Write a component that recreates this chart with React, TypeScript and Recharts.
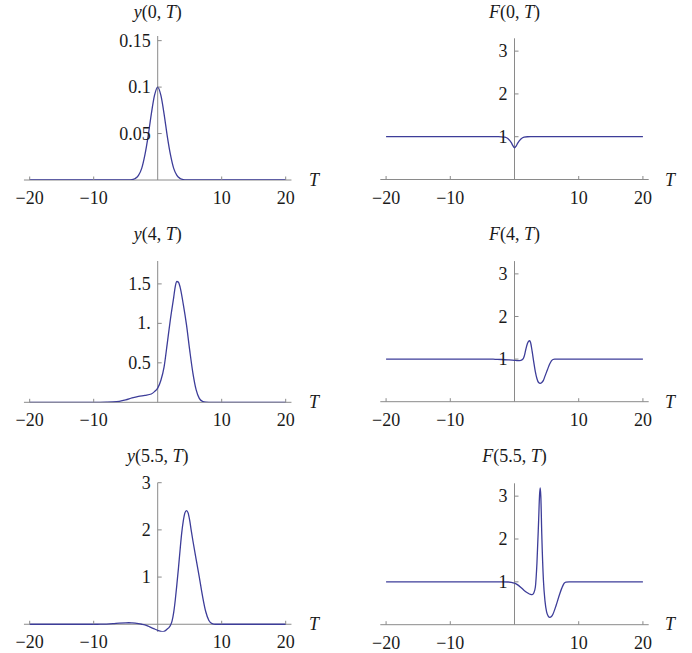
import React from 'react';
import { LineChart, Line, XAxis, YAxis, ReferenceLine } from 'recharts';

// ---------- data ----------
const xTicks = [-20, -10, 10, 20];
const xTickLabels = ['\u221220', '\u221210', '10', '20'];

const y0Ticks = [0.05, 0.1, 0.15];
const y0TickLabels = ['0.05', '0.1', '0.15'];
const y4Ticks = [0.5, 1, 1.5];
const y4TickLabels = ['0.5', '1.', '1.5'];
const y55Ticks = [1, 2, 3];
const y55TickLabels = ['1', '2', '3'];
const fTicks = [1, 2, 3];
const fTickLabels = ['1', '2', '3'];

const titleArgs = ['0', '4', '5.5'];

// y(0,T)
const y0Data: [number, number][] = [
  [-20, 0], [-6, 0], [-4.5, 0], [-4, 0.0004], [-3.5, 0.0017], [-3, 0.005], [-2.5, 0.0125],
  [-2, 0.027], [-1.5, 0.047], [-1, 0.071], [-0.5, 0.091], [0, 0.1], [0.5, 0.091], [1, 0.071],
  [1.5, 0.047], [2, 0.027], [2.5, 0.0125], [3, 0.005], [3.5, 0.0017], [4, 0.0004], [4.5, 0],
  [6, 0], [20, 0],
];
// F(0,T)
const f0Data: [number, number][] = [
  [-20, 1], [-2.5, 1], [-2, 0.998], [-1.5, 0.99], [-1, 0.955], [-0.5, 0.86], [-0.25, 0.79],
  [0, 0.74], [0.25, 0.78], [0.5, 0.85], [1, 0.945], [1.5, 0.99], [2, 0.999], [2.5, 1], [20, 1],
];
// y(4,T)
const y4Data: [number, number][] = [
  [-20, 0], [-9, 0], [-8, 0.001], [-7, 0.004], [-6, 0.012], [-5, 0.03], [-4, 0.055], [-3, 0.075],
  [-2, 0.088], [-1, 0.105], [-0.5, 0.135], [0, 0.18], [0.5, 0.28], [1, 0.45], [1.5, 0.75],
  [2, 1.06], [2.5, 1.33], [2.75, 1.47], [3, 1.53], [3.25, 1.52], [3.5, 1.46], [4, 1.24],
  [4.5, 0.98], [5, 0.66], [5.5, 0.37], [6, 0.16], [6.5, 0.05], [7, 0.012], [7.5, 0.002],
  [8, 0], [20, 0],
];
// F(4,T)
const f4Data: [number, number][] = [
  [-20, 1], [-4, 1], [-3, 0.995], [-2, 0.99], [-1, 0.982], [0, 0.972], [0.5, 0.965], [1, 0.972],
  [1.25, 0.99], [1.5, 1.06], [1.75, 1.22], [2, 1.36], [2.2, 1.42], [2.35, 1.43], [2.5, 1.39],
  [2.75, 1.18], [3, 0.93], [3.25, 0.7], [3.5, 0.54], [3.75, 0.45], [4, 0.43], [4.25, 0.45],
  [4.5, 0.5], [4.75, 0.6], [5, 0.7], [5.25, 0.8], [5.5, 0.89], [5.75, 0.96], [6, 0.99],
  [6.25, 1], [20, 1],
];
// y(5.5,T)
const y55Data: [number, number][] = [
  [-20, 0], [-10, 0], [-9, 0.001], [-8, 0.004], [-7, 0.012], [-6, 0.024], [-5, 0.031],
  [-4.5, 0.032], [-4, 0.028], [-3, 0.012], [-2.5, 0], [-2, -0.015], [-1.5, -0.04], [-1, -0.07],
  [-0.5, -0.1], [0, -0.128], [0.5, -0.152], [0.75, -0.157], [1, -0.152], [1.5, -0.1],
  [1.75, -0.07], [2, -0.02], [2.25, 0.07], [2.5, 0.25], [2.75, 0.52], [3, 0.85], [3.25, 1.2],
  [3.5, 1.58], [3.75, 1.93], [4, 2.19], [4.25, 2.36], [4.5, 2.41], [4.75, 2.36], [5, 2.2],
  [5.25, 1.98], [5.5, 1.77], [6, 1.38], [6.5, 1.0], [7, 0.6], [7.5, 0.27], [8, 0.08],
  [8.5, 0.015], [9, 0], [20, 0],
];
// F(5.5,T)
const f55Data: [number, number][] = [
  [-20, 1], [-2, 1], [-1, 0.997], [-0.5, 0.99], [0, 0.97], [0.5, 0.93], [1, 0.87], [1.5, 0.8],
  [2, 0.745], [2.5, 0.705], [2.75, 0.7], [3, 0.74], [3.25, 0.88], [3.5, 1.45], [3.75, 2.4],
  [3.9, 3.02], [4, 3.19], [4.1, 3.0], [4.25, 2.1], [4.5, 1.05], [4.75, 0.55], [5, 0.3],
  [5.25, 0.2], [5.5, 0.17], [5.75, 0.19], [6, 0.25], [6.5, 0.46], [7, 0.7], [7.5, 0.9],
  [7.75, 0.97], [8, 0.995], [8.5, 1], [20, 1],
];

// ---------- style ----------
const FONT = '"Liberation Serif", "Times New Roman", Times, serif';
const AXIS = '#8a8a8a';
const CURVE = '#3d3d99';
const TEXT = '#1a1a1a';
const X_DOMAIN: [number, number] = [-20.9, 20.9];
const AX_SIZE = 1; // thickness reserved by XAxis height / YAxis width

type PanelProps = {
  left: number; top: number; width: number; height: number;
  margin: { top: number; right: number; bottom: number; left: number };
  yDomain: [number, number];
  data: [number, number][];
  yTicks: number[]; yLabels: string[];
};

function Panel({ left, top, width, height, margin, yDomain, data, yTicks, yLabels }: PanelProps) {
  const m = { top: margin.top, right: margin.right, bottom: margin.bottom - AX_SIZE, left: margin.left - AX_SIZE };
  const plotW = width - margin.left - margin.right;
  const plotH = height - margin.top - margin.bottom;
  const axisY = margin.top + plotH * (yDomain[1] / (yDomain[1] - yDomain[0]));
  const axisX = margin.left + plotW * ((0 - X_DOMAIN[0]) / (X_DOMAIN[1] - X_DOMAIN[0]));
  const rows = data.map(([T, v]) => ({ T, v }));

  const XTick = (props: any) => {
    const { x, payload } = props;
    const i = xTicks.indexOf(payload.value);
    return (
      <g>
        <line x1={x} x2={x} y1={axisY} y2={axisY - 3.5} stroke={AXIS} strokeWidth={1} />
        <text x={x} y={axisY + 24} textAnchor="middle" fontFamily={FONT} fontSize={18} fill={TEXT}>
          {xTickLabels[i]}
        </text>
      </g>
    );
  };
  const YTick = (props: any) => {
    const { y, payload } = props;
    const i = yTicks.indexOf(payload.value);
    return (
      <g>
        <line x1={axisX} x2={axisX + 4} y1={y} y2={y} stroke={AXIS} strokeWidth={1} />
        <text x={axisX - 7} y={y} dy="0.34em" textAnchor="end" fontFamily={FONT} fontSize={18} fill={TEXT}>
          {yLabels[i]}
        </text>
      </g>
    );
  };

  return (
    <div style={{ position: 'absolute', left, top, width, height }}>
      <LineChart width={width} height={height} margin={m} data={rows}>
        <XAxis dataKey="T" type="number" domain={X_DOMAIN} ticks={xTicks} tick={XTick}
          axisLine={false} tickLine={false} height={AX_SIZE} interval={0} allowDataOverflow />
        <YAxis type="number" domain={yDomain} ticks={yTicks} tick={YTick}
          axisLine={false} tickLine={false} width={AX_SIZE} interval={0} allowDataOverflow />
        <ReferenceLine y={0} stroke={AXIS} strokeWidth={1} />
        <ReferenceLine x={0} stroke={AXIS} strokeWidth={1} />
        <Line dataKey="v" type="monotone" stroke={CURVE} strokeWidth={1.3} dot={false}
          activeDot={false} isAnimationActive={false} />
      </LineChart>
    </div>
  );
}

const LEFT_M = { left: 23.94, right: 54.54 };
const RIGHT_M = { left: 34.3, right: 43.3 };

export default function App() {
  const colCenters = [157.7, 514.5];
  const titleBaselines = [18, 240, 462];
  const tBaselines = [186, 408, 630];
  return (
    <div style={{ position: 'absolute', left: 0, top: 0, width: 692, height: 653, background: '#fff', overflow: 'hidden' }}>
      <Panel left={0} top={0} width={346} height={222}
        margin={{ top: 36, bottom: 42, ...LEFT_M }} yDomain={[0, 0.155]}
        data={y0Data} yTicks={y0Ticks} yLabels={y0TickLabels} />
      <Panel left={346} top={0} width={346} height={222}
        margin={{ top: 38.3, bottom: 42.5, ...RIGHT_M }} yDomain={[0, 3.3]}
        data={f0Data} yTicks={fTicks} yLabels={fTickLabels} />
      <Panel left={0} top={222} width={346} height={222}
        margin={{ top: 39, bottom: 41.7, ...LEFT_M }} yDomain={[0, 1.79]}
        data={y4Data} yTicks={y4Ticks} yLabels={y4TickLabels} />
      <Panel left={346} top={222} width={346} height={222}
        margin={{ top: 39.1, bottom: 42.3, ...RIGHT_M }} yDomain={[0, 3.3]}
        data={f4Data} yTicks={fTicks} yLabels={fTickLabels} />
      <Panel left={0} top={444} width={346} height={209}
        margin={{ top: 38.7, bottom: 21.2, ...LEFT_M }} yDomain={[-0.16, 3]}
        data={y55Data} yTicks={y55Ticks} yLabels={y55TickLabels} />
      <Panel left={346} top={444} width={346} height={209}
        margin={{ top: 39.3, bottom: 28.3, ...RIGHT_M }} yDomain={[0, 3.3]}
        data={f55Data} yTicks={fTicks} yLabels={fTickLabels} />
      <svg width={692} height={653} style={{ position: 'absolute', left: 0, top: 0, pointerEvents: 'none' }}>
        {titleArgs.map((arg, r) => (
          <g key={r}>
            <text x={colCenters[0]} y={titleBaselines[r]} textAnchor="middle" fontFamily={FONT} fontSize={18} fill={TEXT}>
              <tspan fontStyle="italic">y</tspan>({arg}, <tspan fontStyle="italic">T</tspan>)
            </text>
            <text x={colCenters[1]} y={titleBaselines[r]} textAnchor="middle" fontFamily={FONT} fontSize={18} fill={TEXT}>
              <tspan fontStyle="italic">F</tspan>({arg}, <tspan fontStyle="italic">T</tspan>)
            </text>
            <text x={309} y={tBaselines[r]} fontFamily={FONT} fontSize={18} fontStyle="italic" fill={TEXT}>T</text>
            <text x={665} y={tBaselines[r]} fontFamily={FONT} fontSize={18} fontStyle="italic" fill={TEXT}>T</text>
          </g>
        ))}
      </svg>
    </div>
  );
}
